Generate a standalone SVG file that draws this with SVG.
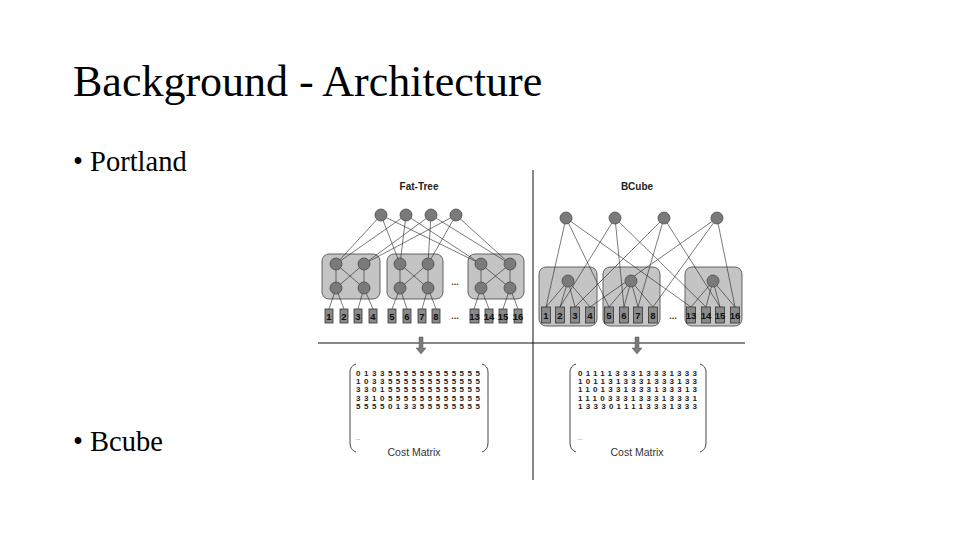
<svg xmlns="http://www.w3.org/2000/svg" width="960" height="540" viewBox="0 0 960 540">
<style>
.title{font-family:"Liberation Serif",serif;font-size:44px;fill:#000}
.bullet{font-family:"Liberation Serif",serif;font-size:28.5px;fill:#000}
.lbl{font-family:"Liberation Sans",Arial,sans-serif;font-size:10px;font-weight:bold;fill:#222;text-anchor:middle}
.sw{fill:#7a7a7a;stroke:#4a4a4a;stroke-width:0.8}
.pod{fill:#c4c4c4;stroke:#555;stroke-width:0.9}
.host{fill:#8a8a8a;stroke:#333;stroke-width:0.8}
.hl{font-family:"Liberation Sans",Arial,sans-serif;font-size:9.5px;font-weight:bold;fill:#111;text-anchor:middle}
.ln{stroke:#222;stroke-width:0.6;fill:none}
.sep{stroke:#111;stroke-width:1;fill:none}
.mx{font-family:"Liberation Sans",Arial,sans-serif;font-size:8px;font-weight:bold;fill:#222}
.par{stroke:#333;stroke-width:0.9;fill:none}
.cm{font-family:"Liberation Sans",Arial,sans-serif;font-size:10.5px;fill:#333;text-anchor:middle}
.dots{font-family:"Liberation Sans",Arial,sans-serif;font-size:9px;font-weight:bold;fill:#333;text-anchor:middle}
.arr{fill:#7a7a7a;stroke:#555;stroke-width:0.5}
</style>

<text class="title" x="73" y="96">Background - Architecture</text>
<text class="bullet" x="73" y="171">• Portland</text>
<text class="bullet" x="73" y="451">• Bcube</text>

<g id="separators">
<line class="sep" x1="533" y1="170" x2="533" y2="480"/>
<line class="sep" x1="318" y1="343" x2="745" y2="343"/>
</g>

<text class="lbl" x="419" y="190">Fat-Tree</text>
<text class="lbl" x="637" y="190">BCube</text>

<g id="pods-ft">
<rect class="pod" x="322" y="254" width="58" height="45" rx="7"/>
<rect class="pod" x="387" y="254" width="56" height="45" rx="7"/>
<rect class="pod" x="468" y="254" width="56" height="45" rx="7"/>
</g>
<g id="pods-bc">
<rect class="pod" x="539" y="267" width="58" height="59" rx="7"/>
<rect class="pod" x="603" y="267" width="57" height="59" rx="7"/>
<rect class="pod" x="685" y="267" width="57" height="59" rx="7"/>
</g>

<g id="connectors">
<path class="ln" d="M381 215L336 264M406 215L336 264M431 215L364 264M456 215L364 264"/>
<path class="ln" d="M381 215L400 264M406 215L400 264M431 215L428 264M456 215L428 264"/>
<path class="ln" d="M381 215L481 264M406 215L481 264M431 215L510 264M456 215L510 264"/>
<path class="ln" d="M336 264L336 288M364 264L364 288M336 264L364 288M364 264L336 288"/>
<path class="ln" d="M400 264L400 288M428 264L428 288M400 264L428 288M428 264L400 288"/>
<path class="ln" d="M481 264L481 288M510 264L510 288M481 264L510 288M510 264L481 288"/>
<path class="ln" d="M336 288L329 309M336 288L344 309M364 288L358 309M364 288L373 309"/>
<path class="ln" d="M400 288L392 309M400 288L407 309M428 288L422 309M428 288L436 309"/>
<path class="ln" d="M481 288L474 309M481 288L489 309M510 288L503 309M510 288L518 309"/>
<path class="ln" d="M566 218L546 307M566 218L609 307M566 218L691 307"/>
<path class="ln" d="M615 218L560 307M615 218L624 307M615 218L706 307"/>
<path class="ln" d="M664 218L575 307M664 218L638 307M664 218L720 307"/>
<path class="ln" d="M717 218L590 307M717 218L653 307M717 218L735 307"/>
<path class="ln" d="M568 281L546 307M568 281L560 307M568 281L575 307M568 281L590 307"/>
<path class="ln" d="M631 281L609 307M631 281L624 307M631 281L638 307M631 281L653 307"/>
<path class="ln" d="M713 281L691 307M713 281L706 307M713 281L720 307M713 281L735 307"/>
</g>

<g id="ft-switches">
<circle class="sw" cx="381" cy="215" r="6"/>
<circle class="sw" cx="406" cy="215" r="6"/>
<circle class="sw" cx="431" cy="215" r="6"/>
<circle class="sw" cx="456" cy="215" r="6"/>
<circle class="sw" cx="336" cy="264" r="6"/>
<circle class="sw" cx="364" cy="264" r="6"/>
<circle class="sw" cx="336" cy="288" r="6"/>
<circle class="sw" cx="364" cy="288" r="6"/>
<circle class="sw" cx="400" cy="264" r="6"/>
<circle class="sw" cx="428" cy="264" r="6"/>
<circle class="sw" cx="400" cy="288" r="6"/>
<circle class="sw" cx="428" cy="288" r="6"/>
<circle class="sw" cx="481" cy="264" r="6"/>
<circle class="sw" cx="510" cy="264" r="6"/>
<circle class="sw" cx="481" cy="288" r="6"/>
<circle class="sw" cx="510" cy="288" r="6"/>
</g>

<g id="bc-switches">
<circle class="sw" cx="566" cy="218" r="6"/>
<circle class="sw" cx="615" cy="218" r="6"/>
<circle class="sw" cx="664" cy="218" r="6"/>
<circle class="sw" cx="717" cy="218" r="6"/>
<circle class="sw" cx="568" cy="281" r="6"/>
<circle class="sw" cx="631" cy="281" r="6"/>
<circle class="sw" cx="713" cy="281" r="6"/>
</g>

<g id="ft-hosts">
<rect class="host" x="325" y="309" width="8" height="14"/><text class="hl" x="329" y="319.5">1</text>
<rect class="host" x="340" y="309" width="8" height="14"/><text class="hl" x="344" y="319.5">2</text>
<rect class="host" x="354" y="309" width="8" height="14"/><text class="hl" x="358" y="319.5">3</text>
<rect class="host" x="369" y="309" width="8" height="14"/><text class="hl" x="373" y="319.5">4</text>
<rect class="host" x="388" y="309" width="8" height="14"/><text class="hl" x="392" y="319.5">5</text>
<rect class="host" x="403" y="309" width="8" height="14"/><text class="hl" x="407" y="319.5">6</text>
<rect class="host" x="418" y="309" width="8" height="14"/><text class="hl" x="422" y="319.5">7</text>
<rect class="host" x="432" y="309" width="8" height="14"/><text class="hl" x="436" y="319.5">8</text>
<rect class="host" x="470" y="309" width="9" height="14"/><text class="hl" x="474.5" y="319.5">13</text>
<rect class="host" x="485" y="309" width="8" height="14"/><text class="hl" x="489" y="319.5">14</text>
<rect class="host" x="499" y="309" width="8" height="14"/><text class="hl" x="503" y="319.5">15</text>
<rect class="host" x="514" y="309" width="8" height="14"/><text class="hl" x="518" y="319.5">16</text>
<text class="dots" x="455" y="319">...</text>
<text class="dots" x="455" y="285">...</text>
</g>

<g id="bc-hosts">
<rect class="host" x="541.5" y="307" width="9" height="16"/><text class="hl" x="546" y="318.5">1</text>
<rect class="host" x="555.5" y="307" width="9" height="16"/><text class="hl" x="560" y="318.5">2</text>
<rect class="host" x="570.5" y="307" width="9" height="16"/><text class="hl" x="575" y="318.5">3</text>
<rect class="host" x="585.5" y="307" width="9" height="16"/><text class="hl" x="590" y="318.5">4</text>
<rect class="host" x="604.5" y="307" width="9" height="16"/><text class="hl" x="609" y="318.5">5</text>
<rect class="host" x="619.5" y="307" width="9" height="16"/><text class="hl" x="624" y="318.5">6</text>
<rect class="host" x="633.5" y="307" width="9" height="16"/><text class="hl" x="638" y="318.5">7</text>
<rect class="host" x="648.5" y="307" width="9" height="16"/><text class="hl" x="653" y="318.5">8</text>
<rect class="host" x="686.5" y="307" width="9" height="16"/><text class="hl" x="691" y="318.5">13</text>
<rect class="host" x="701.5" y="307" width="9" height="16"/><text class="hl" x="706" y="318.5">14</text>
<rect class="host" x="715.5" y="307" width="9" height="16"/><text class="hl" x="720" y="318.5">15</text>
<rect class="host" x="730.5" y="307" width="9" height="16"/><text class="hl" x="735" y="318.5">16</text>
<text class="dots" x="673" y="319">...</text>
</g>

<g id="arrows">
<path class="arr" d="M419 337H423V348H426L421 354L416 348H419Z"/>
<path class="arr" d="M635 337H639V348H642L637 354L632 348H635Z"/>
</g>

<g id="ft-matrix">
<path class="par" d="M356 364Q350 366 350 372V443Q350 450 356 452"/>
<path class="par" d="M482 364Q488 366 488 372V443Q488 450 482 452"/>
<text class="mx" x="356" y="376" textLength="124" lengthAdjust="spacing">0133555555555555</text>
<text class="mx" x="356" y="384.2" textLength="124" lengthAdjust="spacing">1033555555555555</text>
<text class="mx" x="356" y="392.4" textLength="124" lengthAdjust="spacing">3301555555555555</text>
<text class="mx" x="356" y="400.6" textLength="124" lengthAdjust="spacing">3310555555555555</text>
<text class="mx" x="356" y="408.8" textLength="124" lengthAdjust="spacing">5555013355555555</text>
<text class="cm" x="358" y="440" style="font-size:6px">...</text>
<text class="cm" x="414" y="456">Cost Matrix</text>
</g>

<g id="bc-matrix">
<path class="par" d="M576 364Q570 366 570 372V443Q570 450 576 452"/>
<path class="par" d="M700 364Q706 366 706 372V443Q706 450 700 452"/>
<text class="mx" x="578" y="376" textLength="119" lengthAdjust="spacing">0111133313331333</text>
<text class="mx" x="578" y="384.2" textLength="119" lengthAdjust="spacing">1011313331333133</text>
<text class="mx" x="578" y="392.4" textLength="119" lengthAdjust="spacing">1101331333133313</text>
<text class="mx" x="578" y="400.6" textLength="119" lengthAdjust="spacing">1110333133313331</text>
<text class="mx" x="578" y="408.8" textLength="119" lengthAdjust="spacing">1333011113331333</text>
<text class="cm" x="580" y="440" style="font-size:6px">...</text>
<text class="cm" x="637" y="456">Cost Matrix</text>
</g>
</svg>
